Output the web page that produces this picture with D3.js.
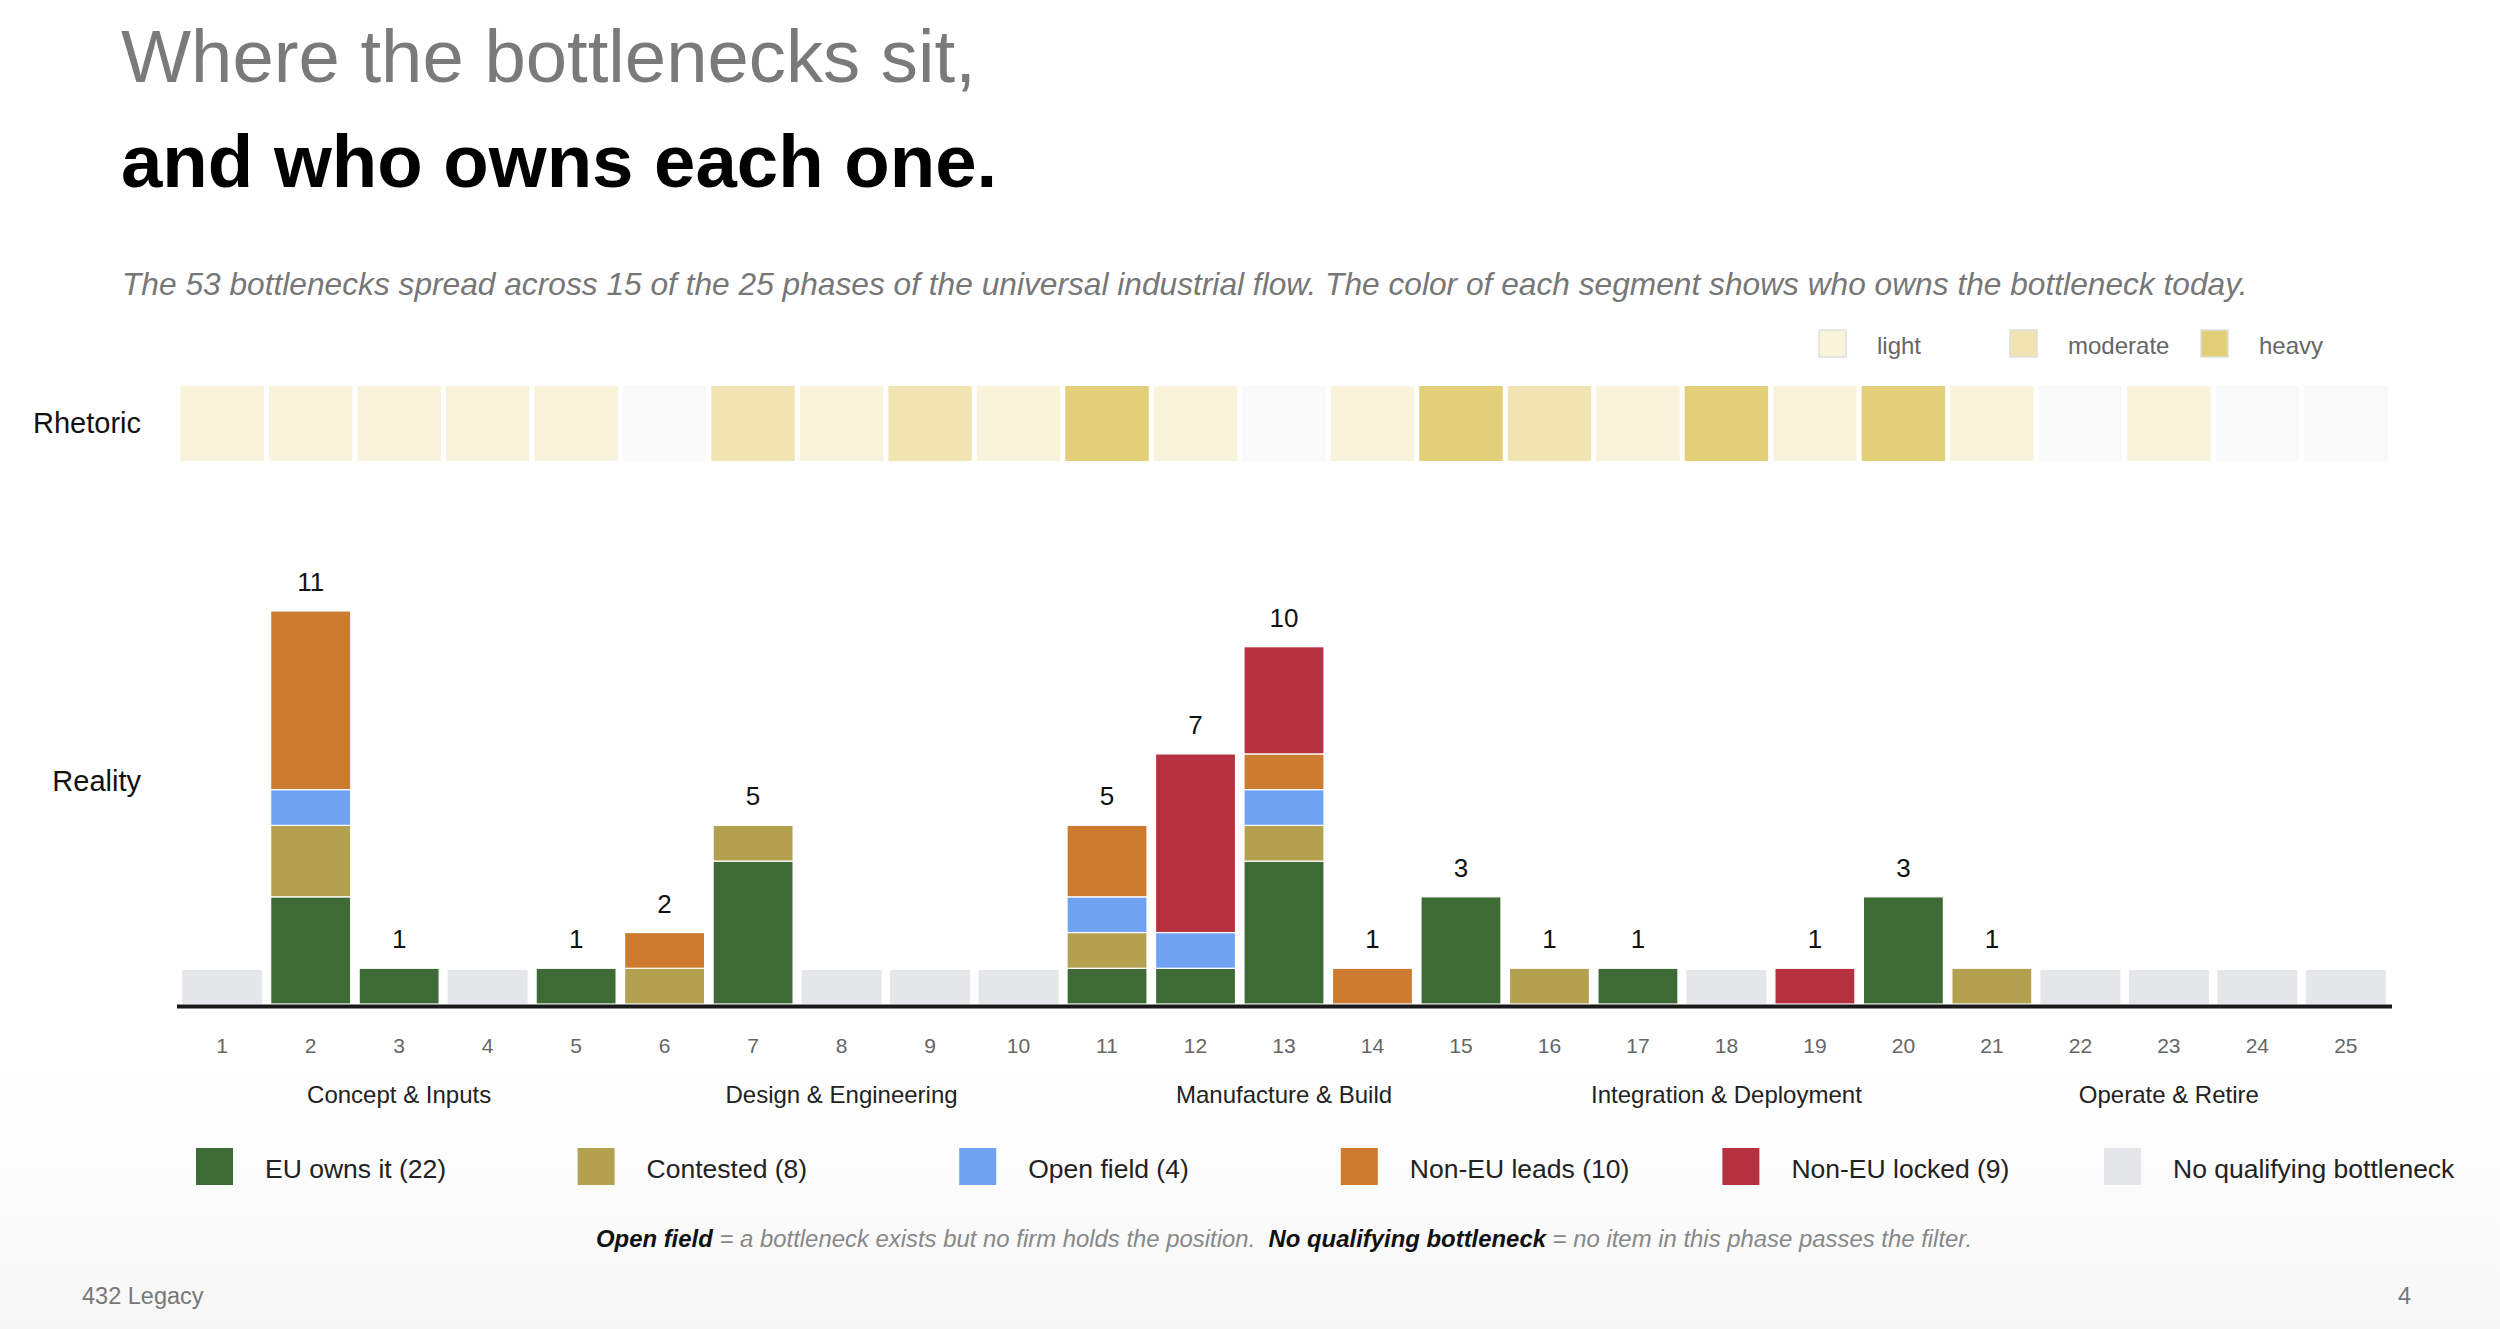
<!DOCTYPE html>
<html>
<head>
<meta charset="utf-8">
<script src="https://cdn.jsdelivr.net/npm/d3@7"></script>
<style>
  body { margin: 0; background: #fff; }
  svg { display: block; font-family: "Liberation Sans", Arial, sans-serif; }
</style>
</head>
<body>
<div id="chart"></div>
<script>
// phases of the universal industrial flow
var phases = ['1','2','3','4','5','6','7','8','9','10','11','12','13','14','15','16','17','18','19','20','21','22','23','24','25'];
var stages = ['Concept & Inputs', 'Design & Engineering', 'Manufacture & Build', 'Integration & Deployment', 'Operate & Retire'];
var stageMid = ['3', '8', '13', '18', '23'];

// rhetoric intensity per phase ('' = none)
var rhetoric = ['light','light','light','light','light','','moderate','light','moderate','light',
                'heavy','light','','light','heavy','moderate','light','heavy','light','heavy',
                'light','','light','',''];

// bottleneck counts per phase, by owner
var euOwns      = [0,3,1,0,1,0,4,0,0,0,1,1,4,0,3,0,1,0,0,3,0,0,0,0,0];
var contested   = [0,2,0,0,0,1,1,0,0,0,1,0,1,0,0,1,0,0,0,0,1,0,0,0,0];
var openField   = [0,1,0,0,0,0,0,0,0,0,1,1,1,0,0,0,0,0,0,0,0,0,0,0,0];
var nonEuLeads  = [0,5,0,0,0,1,0,0,0,0,2,0,1,1,0,0,0,0,0,0,0,0,0,0,0];
var nonEuLocked = [0,0,0,0,0,0,0,0,0,0,0,5,3,0,0,0,0,0,1,0,0,0,0,0,0];

var owners = ['eu', 'contested', 'open', 'leads', 'locked'];
var ownerNames = ['EU owns it', 'Contested', 'Open field', 'Non-EU leads', 'Non-EU locked'];
var ownerColors = ['#3e6b35', '#b3a150', '#6fa3f2', '#cc7b30', '#b5313f'];
var noneColor = '#e5e6ea';

var rhetoricLevels = ['light', 'moderate', 'heavy'];
var rhetoricColors = ['#faf3dc', '#efe4b2', '#e3cf78'];

var width = 2500, height = 1329;

var rows = phases.map(function(p, i){
  return { phase: p, eu: euOwns[i], contested: contested[i], open: openField[i],
           leads: nonEuLeads[i], locked: nonEuLocked[i], rhet: rhetoric[i] };
});
rows.forEach(function(r){
  r.total = r.eu + r.contested + r.open + r.leads + r.locked;
});

var svg = d3.select('#chart')
  .append('svg')
  .attr('width', width)
  .attr('height', height);

// faint slide shading toward the bottom
var grad = svg.append('defs').append('linearGradient')
  .attr('id', 'bg').attr('x1', 0).attr('y1', 0).attr('x2', 0).attr('y2', 1);
grad.append('stop').attr('offset', '0.8').attr('stop-color', '#ffffff');
grad.append('stop').attr('offset', '1').attr('stop-color', '#f7f7f7');
svg.append('rect').attr('width', width).attr('height', height).attr('fill', 'url(#bg)');

// titles
svg.append('text').attr('x', 121).attr('y', 82)
  .attr('font-size', 74.3).attr('fill', '#7a7a7a')
  .text('Where the bottlenecks sit,');
svg.append('text').attr('x', 121).attr('y', 187)
  .attr('font-size', 74.4).attr('font-weight', 'bold').attr('fill', '#000')
  .text('and who owns each one.');
svg.append('text').attr('x', 122).attr('y', 295)
  .attr('font-size', 31.7).attr('font-style', 'italic').attr('fill', '#777')
  .text('The 53 bottlenecks spread across 15 of the 25 phases of the universal industrial flow. The color of each segment shows who owns the bottleneck today.');

var x = d3.scaleBand()
  .domain(phases)
  .range([177.75, 2390.25])
  .paddingInner(0.096)
  .paddingOuter(0.05);

var y = d3.scaleLinear()
  .domain([0, 11])
  .range([1004, 611]);

var rhetColor = d3.scaleOrdinal()
  .domain(rhetoricLevels)
  .range(rhetoricColors)
  .unknown('#f9f9f9');

// rhetoric legend
var rl = svg.append('g').selectAll('g')
  .data(rhetoricLevels)
  .enter()
  .append('g')
  .attr('transform', function(d, i){ return 'translate(' + [1819, 2010, 2201][i] + ',330)'; });
rl.append('rect')
  .attr('width', 27).attr('height', 27)
  .attr('fill', function(d){ return rhetColor(d); })
  .attr('stroke', '#dedede').attr('stroke-width', 1.5);
rl.append('text')
  .attr('x', 58).attr('y', 24)
  .attr('font-size', 24).attr('fill', '#666')
  .text(function(d){ return d; });

// row labels
svg.append('text').attr('x', 141).attr('y', 433)
  .attr('text-anchor', 'end').attr('font-size', 29).attr('fill', '#111')
  .text('Rhetoric');
svg.append('text').attr('x', 141).attr('y', 791)
  .attr('text-anchor', 'end').attr('font-size', 29).attr('fill', '#111')
  .text('Reality');

// rhetoric strip
svg.append('g').selectAll('rect')
  .data(rows)
  .enter()
  .append('rect')
  .attr('x', function(d){ return x(d.phase) - 1.75; })
  .attr('y', 386)
  .attr('width', x.bandwidth() + 3.5)
  .attr('height', 75)
  .attr('fill', function(d){ return rhetColor(d.rhet); });

// placeholders for phases without a qualifying bottleneck
svg.append('g').selectAll('rect')
  .data(rows.filter(function(d){ return d.total === 0; }))
  .enter()
  .append('rect')
  .attr('x', function(d){ return x(d.phase); })
  .attr('y', y(0.95))
  .attr('width', x.bandwidth())
  .attr('height', y(0) - y(0.95))
  .attr('fill', noneColor);

// stacked bars
var stack = d3.stack().keys(owners);
var layers = stack(rows);

svg.append('g').selectAll('g')
  .data(layers)
  .enter()
  .append('g')
  .attr('fill', function(d, i){ return ownerColors[i]; })
  .selectAll('rect')
  .data(function(d){ return d.filter(function(s){ return s[1] > s[0]; }); })
  .enter()
  .append('rect')
  .attr('x', function(d){ return x(d.data.phase); })
  .attr('y', function(d){ return y(d[1]); })
  .attr('width', x.bandwidth())
  .attr('height', function(d){ return y(d[0]) - y(d[1]); })
  .attr('stroke', '#fff')
  .attr('stroke-width', 1.2);

// totals
svg.append('g').selectAll('text')
  .data(rows.filter(function(d){ return d.total > 0; }))
  .enter()
  .append('text')
  .attr('x', function(d){ return x(d.phase) + x.bandwidth() / 2; })
  .attr('y', function(d){ return y(d.total) - 20; })
  .attr('text-anchor', 'middle')
  .attr('font-size', 26).attr('fill', '#111')
  .text(function(d){ return d.total; });

// baseline
svg.append('line')
  .attr('x1', 177).attr('x2', 2392)
  .attr('y1', 1006.5).attr('y2', 1006.5)
  .attr('stroke', '#1a1a1a').attr('stroke-width', 4);

// phase numbers
var xAxis = svg.append('g')
  .attr('transform', 'translate(0,1004)')
  .call(d3.axisBottom(x).tickSize(0).tickPadding(49));
xAxis.select('.domain').remove();
xAxis.selectAll('text')
  .attr('font-size', 21).attr('fill', '#666')
  .attr('font-family', '"Liberation Sans", Arial, sans-serif')
  .attr('dy', 0);

// stage labels
svg.append('g').selectAll('text')
  .data(stages)
  .enter()
  .append('text')
  .attr('x', function(d, i){ return x(stageMid[i]) + x.bandwidth() / 2; })
  .attr('y', 1103)
  .attr('text-anchor', 'middle')
  .attr('font-size', 24).attr('fill', '#222')
  .text(function(d){ return d; });

// owner legend
var legendItems = owners.map(function(k, i){
  var total = d3.sum(rows, function(r){ return r[k]; });
  return { label: ownerNames[i] + ' (' + total + ')', color: ownerColors[i] };
});
legendItems.push({ label: 'No qualifying bottleneck', color: noneColor });

var lg = svg.append('g').selectAll('g')
  .data(legendItems)
  .enter()
  .append('g')
  .attr('transform', function(d, i){ return 'translate(' + (196 + i * 381.6) + ',1148)'; });
lg.append('rect')
  .attr('width', 37).attr('height', 37)
  .attr('fill', function(d){ return d.color; });
lg.append('text')
  .attr('x', 69).attr('y', 30)
  .attr('font-size', 26.5).attr('fill', '#222')
  .text(function(d){ return d.label; });

// footnote
var note = svg.append('text')
  .attr('x', 1284).attr('y', 1247)
  .attr('text-anchor', 'middle')
  .attr('font-size', 23.9).attr('font-style', 'italic').attr('fill', '#888');
note.append('tspan').attr('font-weight', 'bold').attr('fill', '#111').text('Open field');
note.append('tspan').text(' = a bottleneck exists but no firm holds the position.\u00a0\u00a0');
note.append('tspan').attr('font-weight', 'bold').attr('fill', '#111').text('No qualifying bottleneck');
note.append('tspan').text(' = no item in this phase passes the filter.');

// footer
svg.append('text').attr('x', 82).attr('y', 1304)
  .attr('font-size', 23.5).attr('fill', '#777')
  .text('432 Legacy');
svg.append('text').attr('x', 2411).attr('y', 1304)
  .attr('text-anchor', 'end')
  .attr('font-size', 23.5).attr('fill', '#777')
  .text('4');
</script>
</body>
</html>
